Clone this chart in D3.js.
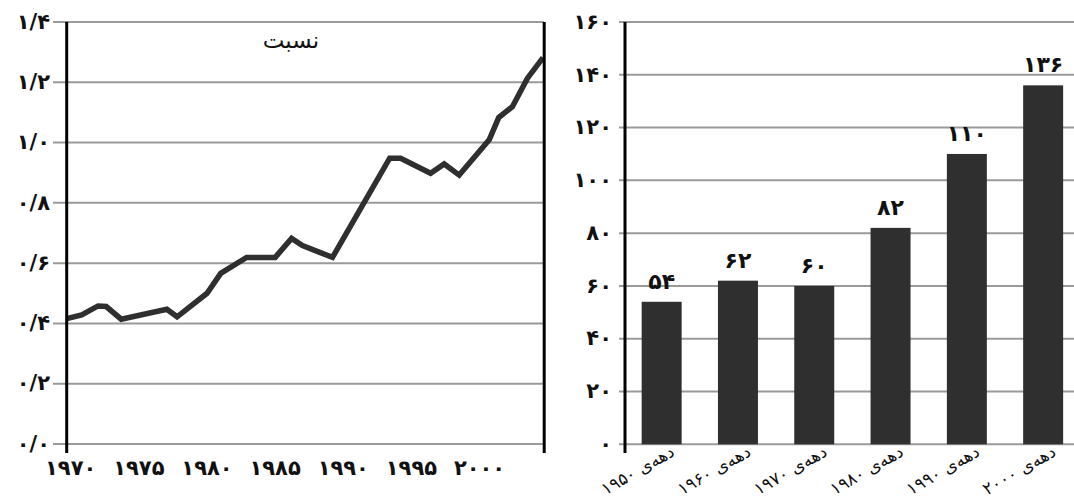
<!DOCTYPE html>
<html>
<head>
<meta charset="utf-8">
<script src="https://cdn.jsdelivr.net/npm/d3@7"></script>
<style>
  html, body { margin: 0; padding: 0; background: #fff; }
  svg { display: block; }
  text { font-family: "DejaVu Sans", sans-serif; fill: #111; }
</style>
</head>
<body>
<svg id="chart" width="1074" height="502"></svg>
<script>
// ---------- data ----------
const ratioYears  = [1970.0, 1971.1, 1972.3, 1972.9, 1974.0, 1977.35, 1978.1, 1980.3, 1981.3, 1983.2, 1985.3, 1986.5, 1987.3, 1989.5, 1993.7, 1994.5, 1996.7, 1997.7, 1998.8, 2001.0, 2001.7, 2002.7, 2003.8, 2004.95];
const ratioValues = [0.416, 0.428, 0.458, 0.456, 0.414, 0.447, 0.422, 0.500, 0.566, 0.619, 0.619, 0.682, 0.658, 0.619, 0.948, 0.948, 0.898, 0.929, 0.892, 1.009, 1.083, 1.119, 1.213, 1.282];
const ratioTitle = "نسبت";
const leftXTicks = [1970, 1975, 1980, 1985, 1990, 1995, 2000];
const leftXTickLabels = ["۱۹۷۰", "۱۹۷۵", "۱۹۸۰", "۱۹۸۵", "۱۹۹۰", "۱۹۹۵", "۲۰۰۰"];
const leftYTicks = [0, 0.2, 0.4, 0.6, 0.8, 1.0, 1.2, 1.4];
const leftYTickLabels = ["۰/۰", "۰/۲", "۰/۴", "۰/۶", "۰/۸", "۱/۰", "۱/۲", "۱/۴"];

const decades = ["دهه\u200cی ۱۹۵۰", "دهه\u200cی ۱۹۶۰", "دهه\u200cی ۱۹۷۰", "دهه\u200cی ۱۹۸۰", "دهه\u200cی ۱۹۹۰", "دهه\u200cی ۲۰۰۰"];
const decadeValues = [54, 62, 60, 82, 110, 136];
const decadeValueLabels = ["۵۴", "۶۲", "۶۰", "۸۲", "۱۱۰", "۱۳۶"];
const rightYTicks = [0, 20, 40, 60, 80, 100, 120, 140, 160];
const rightYTickLabels = ["۰", "۲۰", "۴۰", "۶۰", "۸۰", "۱۰۰", "۱۲۰", "۱۴۰", "۱۶۰"];

// ---------- drawing ----------
const svg = d3.select("#chart");
const gridColor = "#9a9a9a";
const inkColor = "#2f2f2f";
const tickFont = 21;

// ===== Left: line chart =====
const L = { x0: 66.7, x1: 543.7, yTop: 22, yBot: 444 };
const xL = d3.scaleLinear().domain([1970, 2005]).range([L.x0, L.x1]);
const yL = d3.scaleLinear().domain([0, 1.4]).range([L.yBot, L.yTop]);

const gL = svg.append("g");
gL.selectAll("line.grid").data(leftYTicks).join("line")
  .attr("class", "grid")
  .attr("x1", 53).attr("x2", L.x1)
  .attr("y1", d => yL(d)).attr("y2", d => yL(d))
  .attr("stroke", gridColor).attr("stroke-width", 2);

gL.selectAll("text.ylab").data(leftYTicks).join("text")
  .attr("class", "ylab")
  .attr("x", 50).attr("y", d => yL(d))
  .attr("dy", "0.32em")
  .attr("text-anchor", "end")
  .attr("font-size", tickFont).attr("font-weight", "bold")
  .text((d, i) => leftYTickLabels[i]);

gL.selectAll("text.xlab").data(leftXTicks).join("text")
  .attr("class", "xlab")
  .attr("x", d => xL(d) + 4).attr("y", 475)
  .attr("text-anchor", "middle")
  .attr("font-size", tickFont).attr("font-weight", "bold")
  .text((d, i) => leftXTickLabels[i]);

const line = d3.line().x(d => xL(d[0])).y(d => yL(d[1]));
gL.append("path")
  .datum(ratioYears.map((y, i) => [y, ratioValues[i]]))
  .attr("d", line)
  .attr("fill", "none")
  .attr("stroke", inkColor)
  .attr("stroke-width", 5.5)
  .attr("stroke-linejoin", "miter");

// axes lines
gL.append("line").attr("x1", L.x0).attr("x2", L.x0).attr("y1", L.yTop).attr("y2", 453)
  .attr("stroke", "#000").attr("stroke-width", 3);
gL.append("line").attr("x1", L.x1 + 0.5).attr("x2", L.x1 + 0.5).attr("y1", L.yTop).attr("y2", 453)
  .attr("stroke", "#000").attr("stroke-width", 3);

gL.append("text")
  .attr("x", 291).attr("y", 48)
  .attr("text-anchor", "middle")
  .attr("font-size", 23)
  .text(ratioTitle);

// ===== Right: bar chart =====
const R = { x0: 625, yTop: 22, yBot: 444.3 };
const yR = d3.scaleLinear().domain([0, 160]).range([R.yBot, R.yTop]);
const xR = d3.scaleBand().domain(decades).range([623.5, 623.5 + 6 * 76.3])
  .paddingInner(0.476).paddingOuter(0.238);

const gR = svg.append("g");
gR.selectAll("line.grid").data(rightYTicks).join("line")
  .attr("class", "grid")
  .attr("x1", 619).attr("x2", 1074)
  .attr("y1", d => yR(d)).attr("y2", d => yR(d))
  .attr("stroke", gridColor).attr("stroke-width", 2);

gR.selectAll("text.ylab").data(rightYTicks).join("text")
  .attr("class", "ylab")
  .attr("x", 612).attr("y", d => yR(d))
  .attr("dy", "0.32em")
  .attr("text-anchor", "end")
  .attr("font-size", tickFont).attr("font-weight", "bold")
  .text((d, i) => rightYTickLabels[i]);

gR.selectAll("rect.bar").data(decades).join("rect")
  .attr("class", "bar")
  .attr("x", d => xR(d))
  .attr("width", xR.bandwidth())
  .attr("y", (d, i) => yR(decadeValues[i]))
  .attr("height", (d, i) => yR(0) - yR(decadeValues[i]))
  .attr("fill", inkColor);

gR.selectAll("text.val").data(decades).join("text")
  .attr("class", "val")
  .attr("x", d => xR(d) + xR.bandwidth() / 2)
  .attr("y", (d, i) => yR(decadeValues[i]) - 13)
  .attr("text-anchor", "middle")
  .attr("font-size", 22).attr("font-weight", "bold")
  .text((d, i) => decadeValueLabels[i]);

gR.selectAll("text.cat").data(decades).join("text")
  .attr("class", "cat")
  .attr("transform", d => `translate(${xR(d) + xR.bandwidth() / 2 + 14},${455}) rotate(-30)`)
  .attr("text-anchor", "end")
  .attr("font-size", 17)
  .text(d => d);

gR.append("line").attr("x1", R.x0).attr("x2", R.x0).attr("y1", R.yTop).attr("y2", 453)
  .attr("stroke", "#000").attr("stroke-width", 3);
</script>
</body>
</html>
